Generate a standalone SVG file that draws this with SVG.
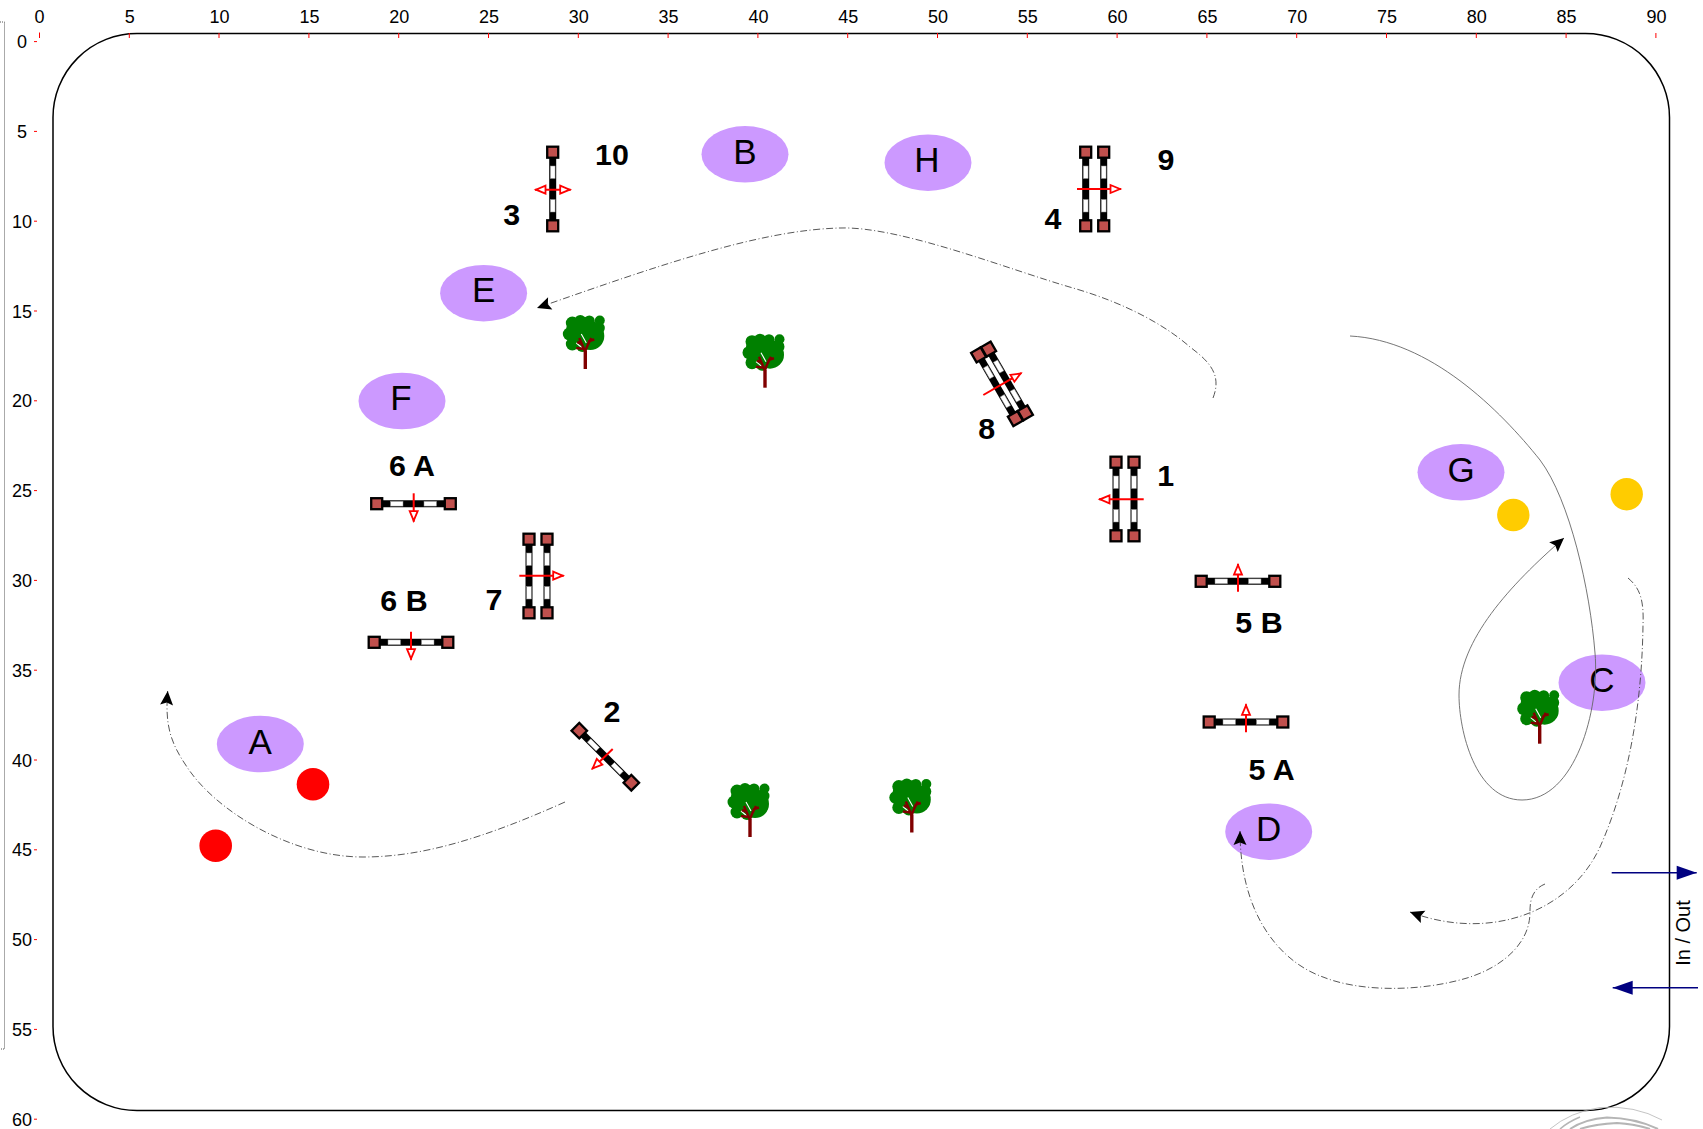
<svg xmlns="http://www.w3.org/2000/svg" width="1703" height="1129" viewBox="0 0 1703 1129">
<style>
text{font-family:"Liberation Sans",Arial,sans-serif;fill:#000}
.rx{font-size:18px;text-anchor:middle}
.tick{stroke:#ff0000;stroke-width:1;fill:none}
.num{font-size:30.4px;font-weight:bold;text-anchor:middle}
.ltr{font-size:35px;text-anchor:middle}
.zone{fill:#cc99ff}
.post{fill:#c0504d;stroke:#000;stroke-width:2.3}
.bar{stroke:#000;stroke-width:7}
.gap{fill:#fff;stroke:#8a8a8a;stroke-width:.5}
.dir{stroke:#ff0000;stroke-width:2;fill:none;marker-end:url(#hollow)}
.route{fill:none;stroke:#444;stroke-width:.9;stroke-dasharray:7 2.5 1 2.5;marker-end:url(#head)}
.thin{fill:none;stroke:#666;stroke-width:.9;marker-end:url(#head)}
.gate{stroke:#000080;stroke-width:1.5;fill:none;marker-end:url(#blue)}
.arc{fill:none;stroke:#b5b5b5}
</style>
<defs>
<marker id="hollow" markerUnits="userSpaceOnUse" markerWidth="14" markerHeight="12" refX="12" refY="6" orient="auto-start-reverse"><path d="M1.5,2 L11,6 L1.5,10 Z" fill="#fff" stroke="#ff0000" stroke-width="1.8"/></marker>
<marker id="head" markerUnits="userSpaceOnUse" markerWidth="16" markerHeight="16" refX="15" refY="8" orient="auto"><path d="M15,8 L1,1.5 L3.5,8 L1,14.5 Z" fill="#000"/></marker>
<marker id="blue" markerUnits="userSpaceOnUse" markerWidth="22" markerHeight="16" refX="21" refY="8" orient="auto"><path d="M21,8 L1,1 L1,15 Z" fill="#000080"/></marker>
<g id="rail">
<line class="bar" x1="-36.8" x2="36.8" y1="0" y2="0"/>
<rect class="gap" x="-23" y="-2.4" width="12.5" height="4.8"/>
<rect class="gap" x="10.5" y="-2.4" width="12.5" height="4.8"/>
<rect class="post" x="-42.3" y="-5.5" width="11" height="11"/>
<rect class="post" x="31.3" y="-5.5" width="11" height="11"/>
</g>
<g id="tree">
<g fill="#008000">
<circle cx="-2" cy="-36" r="16"/><circle cx="5" cy="-33" r="14"/><circle cx="-13" cy="-46" r="6.5"/><circle cx="-5" cy="-48" r="6"/><circle cx="4" cy="-48" r="5.5"/><circle cx="14.5" cy="-48.5" r="5"/><circle cx="13" cy="-41" r="6.5"/><circle cx="12" cy="-30" r="6"/><circle cx="-16" cy="-35" r="6.5"/><circle cx="-13" cy="-25" r="6.5"/><circle cx="-3" cy="-23" r="6"/><circle cx="9" cy="-26" r="5"/><circle cx="-13" cy="-41" r="6"/>
</g>
<path d="M-4,-35 L1,-26 M-9,-26 L-3,-21" stroke="#fff" stroke-width="1.1" fill="none"/>
<path d="M0,0 V-18" stroke="#800000" stroke-width="3.4" fill="none"/>
<path d="M0,-17 L-6,-31 M0,-18 L4,-28 L9,-29.5 M1,-21 L6,-31 M-1,-20 L-9,-21 M-3,-25 L-8,-27" stroke="#800000" stroke-width="2.5" fill="none"/>
</g>
</defs>
<rect width="1703" height="1129" fill="#fff"/>
<rect id="arena" x="53" y="33.5" width="1616.5" height="1077" rx="84" ry="84" fill="none" stroke="#000" stroke-width="1.5"/>
<path d="M0,22 H4.5 V1049 H0" fill="none" stroke="#555" stroke-width="1" stroke-dasharray="1 1"/>
<g id="ruler-top">
<path class="tick" d="M39.5,32.5V38M129.3,33V38M219,33V38M308.9,33V38M398.7,33V38M488.5,33V38M578.3,33V38M668.1,33V38M757.9,33V38M847.7,33V38M937.5,33V38M1027.3,33V38M1117.1,33V38M1206.9,33V38M1296.7,33V38M1386.5,33V38M1476.3,33V38M1566.1,33V38M1655.9,33V38"/>
<text class="rx" x="39.5" y="23">0</text><text class="rx" x="129.8" y="23">5</text><text class="rx" x="219.5" y="23">10</text><text class="rx" x="309.4" y="23">15</text><text class="rx" x="399.2" y="23">20</text><text class="rx" x="489" y="23">25</text><text class="rx" x="578.8" y="23">30</text><text class="rx" x="668.6" y="23">35</text><text class="rx" x="758.4" y="23">40</text><text class="rx" x="848.2" y="23">45</text><text class="rx" x="938" y="23">50</text><text class="rx" x="1027.8" y="23">55</text><text class="rx" x="1117.6" y="23">60</text><text class="rx" x="1207.4" y="23">65</text><text class="rx" x="1297.2" y="23">70</text><text class="rx" x="1387" y="23">75</text><text class="rx" x="1476.8" y="23">80</text><text class="rx" x="1566.6" y="23">85</text><text class="rx" x="1656.4" y="23">90</text>
</g>
<g id="ruler-left">
<path class="tick" d="M34,41.6H37M34,131.4H37M34,221.2H37M34,311H37M34,400.8H37M34,490.6H37M34,580.4H37M34,670.2H37M34,760H37M34,849.8H37M34,939.6H37M34,1029.4H37M34,1119.2H37"/>
<text class="rx" x="22" y="48.1">0</text><text class="rx" x="22" y="137.9">5</text><text class="rx" x="22" y="227.7">10</text><text class="rx" x="22" y="317.5">15</text><text class="rx" x="22" y="407.3">20</text><text class="rx" x="22" y="497.1">25</text><text class="rx" x="22" y="586.9">30</text><text class="rx" x="22" y="676.7">35</text><text class="rx" x="22" y="766.5">40</text><text class="rx" x="22" y="856.3">45</text><text class="rx" x="22" y="946.1">50</text><text class="rx" x="22" y="1035.9">55</text><text class="rx" x="22" y="1125.7">60</text>
</g>
<g id="corner-mark">
<path class="arc" stroke-width=".8" d="M1550,1129 Q1570,1112 1600,1107.5 Q1635,1105 1662,1120"/>
<path class="arc" stroke-width="1.6" d="M1560,1129 Q1568,1122 1580,1117"/>
<path class="arc" stroke-width="2" d="M1570,1129 Q1585,1119 1607,1117.5 Q1635,1118 1658,1129"/>
<path class="arc" stroke-width="2" d="M1580,1129 Q1595,1124 1617,1123 Q1635,1124 1650,1129"/>
</g>
<g id="zone-A"><ellipse class="zone" cx="260.3" cy="744" rx="43.5" ry="28.3"/><text class="ltr" x="260.3" y="754">A</text></g>
<g id="zone-B"><ellipse class="zone" cx="745" cy="154.3" rx="43.5" ry="28.3"/><text class="ltr" x="745" y="163.5">B</text></g>
<g id="zone-H"><ellipse class="zone" cx="928" cy="162.7" rx="43.5" ry="28.3"/><text class="ltr" x="927" y="171.5">H</text></g>
<g id="zone-E"><ellipse class="zone" cx="483.6" cy="293.2" rx="43.5" ry="28.3"/><text class="ltr" x="483.6" y="301.5">E</text></g>
<g id="zone-F"><ellipse class="zone" cx="402" cy="401" rx="43.5" ry="28.3"/><text class="ltr" x="401" y="409.5">F</text></g>
<g id="zone-G"><ellipse class="zone" cx="1461" cy="472.3" rx="43.5" ry="28.3"/><text class="ltr" x="1461" y="482">G</text></g>
<g id="zone-C"><ellipse class="zone" cx="1602" cy="682.7" rx="43.5" ry="28.3"/><text class="ltr" x="1602" y="691.7">C</text></g>
<g id="zone-D"><ellipse class="zone" cx="1268.7" cy="831.7" rx="43.5" ry="28.3"/><text class="ltr" x="1268.7" y="840.7">D</text></g>
<g id="marker-red-1"><circle cx="313" cy="784.3" r="16.3" fill="#ff0000"/></g>
<g id="marker-red-2"><circle cx="215.7" cy="845.7" r="16.3" fill="#ff0000"/></g>
<g id="marker-yellow-1"><circle cx="1513.3" cy="515" r="16.2" fill="#ffcc00"/></g>
<g id="marker-yellow-2"><circle cx="1626.7" cy="494.3" r="16.2" fill="#ffcc00"/></g>
<g id="tree-1"><use href="#tree" transform="translate(585.3,369)"/></g>
<g id="tree-2"><use href="#tree" transform="translate(765,387.7)"/></g>
<g id="tree-3"><use href="#tree" transform="translate(750,837)"/></g>
<g id="tree-4"><use href="#tree" transform="translate(911.8,832.5)"/></g>
<g id="tree-5"><use href="#tree" transform="translate(1539.7,743.7)"/></g>
<g id="jump-3-10"><use href="#rail" transform="translate(552.7,189) rotate(90)"/><path class="dir" style="marker-start:url(#hollow)" d="M535,189.7H570.7"/><text class="num" x="612" y="165">10</text><text class="num" x="511.7" y="224.5">3</text></g>
<g id="jump-4-9"><use href="#rail" transform="translate(1085.7,189) rotate(90)"/><use href="#rail" transform="translate(1103.7,189) rotate(90)"/><path class="dir" d="M1077,189H1121"/><text class="num" x="1166" y="170">9</text><text class="num" x="1053" y="229">4</text></g>
<g id="jump-1"><use href="#rail" transform="translate(1116,499) rotate(90)"/><use href="#rail" transform="translate(1134,499) rotate(90)"/><path class="dir" d="M1143.7,499.3H1099"/><text class="num" x="1165.7" y="486">1</text></g>
<g id="jump-8"><use href="#rail" transform="translate(997,386.7) rotate(60)"/><use href="#rail" transform="translate(1007,381) rotate(60)"/><path class="dir" d="M983.3,395L1021.5,373"/><text class="num" x="986.7" y="438.5">8</text></g>
<g id="jump-7"><use href="#rail" transform="translate(529,576) rotate(90)"/><use href="#rail" transform="translate(547,576) rotate(90)"/><path class="dir" d="M519.3,575.7H563.7"/><text class="num" x="494" y="610">7</text></g>
<g id="jump-6A"><use href="#rail" transform="translate(413.5,503.7)"/><path class="dir" d="M413.7,493.3V521.7"/><text class="num" x="412" y="475.5">6 A</text></g>
<g id="jump-6B"><use href="#rail" transform="translate(411,642.3)"/><path class="dir" d="M411,631.7V659.7"/><text class="num" x="404" y="610.5">6 B</text></g>
<g id="jump-5B"><use href="#rail" transform="translate(1238,581.3)"/><path class="dir" d="M1238,591.7V564"/><text class="num" x="1259" y="632.5">5 B</text></g>
<g id="jump-5A"><use href="#rail" transform="translate(1246,722)"/><path class="dir" d="M1246,732.3V704.3"/><text class="num" x="1271.7" y="779.5">5 A</text></g>
<g id="jump-2"><use href="#rail" transform="translate(605.3,756.7) rotate(45)"/><path class="dir" d="M612.7,749L592,769"/><text class="num" x="612" y="722">2</text></g>
<g id="connectors">
<path class="route" d="M1213,398C1222,375 1210,362 1190,347C1165,325 1125,303 1073,288C1010,270 900,226 840,228C760,230 660,265 537,308"/>
<path class="route" d="M565,802C480,840 420,857 363,857C290,857 215,810 187,767C170,742 165,725 167.7,691"/>
<path class="thin" d="M1350,336C1430,340 1500,410 1540,460C1570,500 1590,590 1595,653C1600,710 1575,800 1522,800C1475,800 1459,730 1459,695C1459,640 1510,585 1564,538"/>
<path class="route" d="M1628,578C1640,588 1644,600 1643,625C1642,700 1630,780 1600,847C1570,912 1490,942 1410,912"/>
<path class="route" d="M1545,884C1530,890 1530,905 1530,912C1530,945 1500,968 1467,978C1420,992 1360,992 1323,977C1283,963 1240,918 1240,831"/>
<path class="gate" d="M1611.7,872.7H1696.7"/>
<path class="gate" d="M1698,987.7H1612.7"/>
</g>
<g id="gate-label"><text x="1690" y="933" font-size="20" text-anchor="middle" transform="rotate(-90 1690 933)">In / Out</text></g>
</svg>
